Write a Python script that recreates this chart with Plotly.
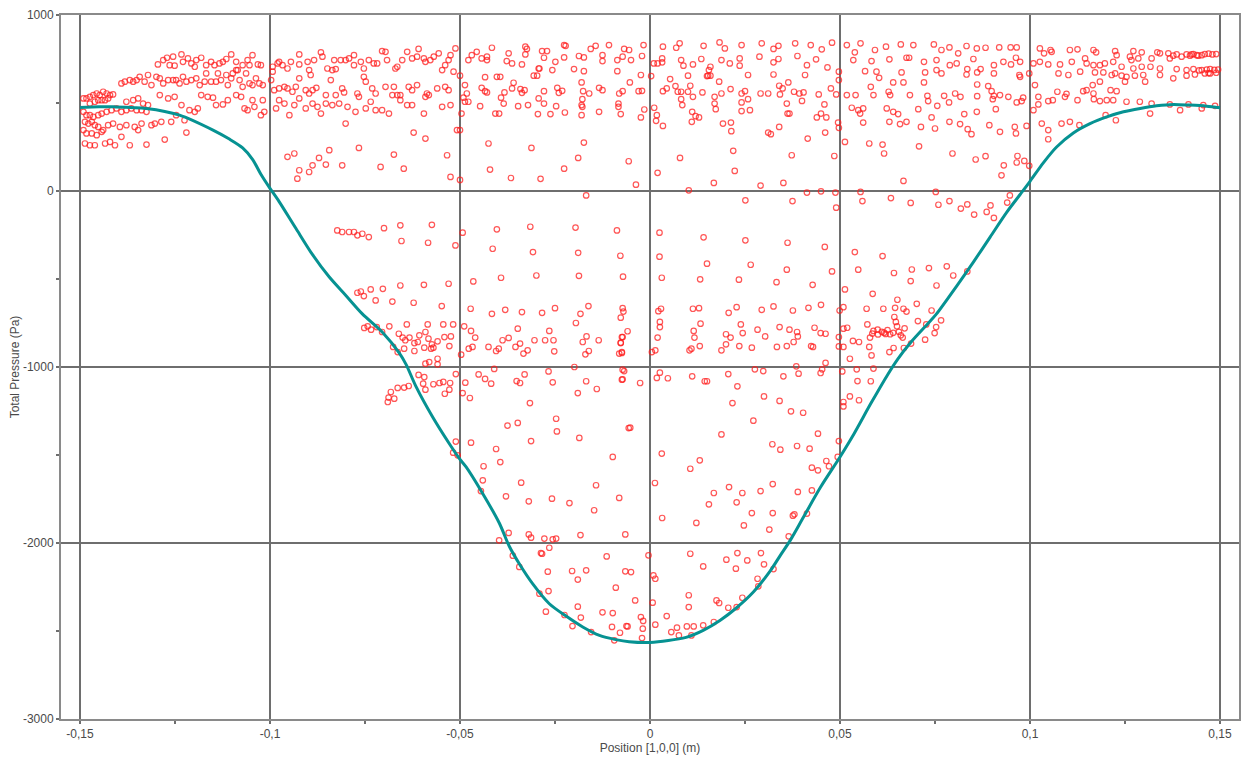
import plotly.graph_objects as go

# ---------------- tick labels ----------------
x_ticks = [-0.15, -0.1, -0.05, 0.0, 0.05, 0.1, 0.15]
x_tick_labels = ["-0,15", "-0,1", "-0,05", "0", "0,05", "0,1", "0,15"]
x_minor = [-0.125, -0.075, -0.025, 0.025, 0.075, 0.125]
y_ticks = [1000, 0, -1000, -2000, -3000]
y_tick_labels = ["1000", "0", "-1000", "-2000", "-3000"]
y_minor = [500, -500, -1500, -2500]

# ---------------- line series (Position m, Total Pressure Pa) ----------------
line_x = [-0.150, -0.145, -0.141, -0.1325, -0.1238, -0.115, -0.1107, -0.1072, -0.1046, -0.1024,
          -0.100, -0.0976, -0.0932, -0.0888, -0.0844, -0.0801, -0.0757, -0.0703, -0.0660, -0.0642,
          -0.0616, -0.0572, -0.0528, -0.0500, -0.0484, -0.0440, -0.0397, -0.0370, -0.0344, -0.0309,
          -0.0265, -0.0221, -0.0177, -0.0133, -0.0090, -0.0055, 0.0, 0.0095, 0.0140, 0.0184,
          0.0228, 0.0272, 0.0316, 0.0343, 0.0369, 0.0404, 0.0449, 0.0500, 0.0537, 0.0581,
          0.0625, 0.0652, 0.0687, 0.0731, 0.0754, 0.0807, 0.0851, 0.0895, 0.0939, 0.0974,
          0.1000, 0.1035, 0.1070, 0.1114, 0.1158, 0.1202, 0.1246, 0.1290, 0.1333, 0.1377,
          0.1421, 0.1465, 0.1500]
line_y = [475, 478, 478, 469, 431, 346, 295, 245, 180, 95,
          15, -60, -212, -362, -489, -592, -698, -805, -920, -985,
          -1110, -1284, -1436, -1525, -1568, -1720, -1885, -2020, -2118, -2231,
          -2345, -2415, -2477, -2525, -2549, -2561, -2565, -2536, -2496, -2440,
          -2368, -2279, -2160, -2070, -1985, -1852, -1682, -1511, -1379, -1208,
          -1045, -955, -858, -754, -698, -540, -404, -262, -120, -20,
          55, 160, 250, 330, 383, 421, 450, 469, 484, 492,
          488, 482, 473]

# ---------------- scatter points (x, y) ----------------
left_top_row = [
    (-0.1295, 719), (-0.1281, 744), (-0.1271, 757), (-0.1255, 763), (-0.1264, 715), (-0.1251, 712),
    (-0.1233, 776), (-0.1229, 734), (-0.1216, 753), (-0.1207, 725), (-0.1198, 706), (-0.1194, 744),
    (-0.1181, 757), (-0.1168, 715), (-0.1155, 734), (-0.1146, 715), (-0.1133, 725), (-0.1124, 734),
    (-0.1115, 750), (-0.1102, 776), (-0.1089, 734), (-0.1085, 687), (-0.1072, 715), (-0.1059, 744),
    (-0.1054, 715), (-0.1046, 772), (-0.1032, 719), (-0.1024, 715), (-0.0993, 706), (-0.0980, 725),
    (-0.0976, 734), (-0.0967, 715), (-0.0954, 696), (-0.0945, 734), (-0.0923, 776), (-0.0923, 719),
    (-0.0901, 734), (-0.0897, 687), (-0.0893, 659), (-0.0884, 744), (-0.0866, 788), (-0.0862, 763),
    (-0.0849, 696), (-0.0836, 687), (-0.0831, 744), (-0.0827, 693), (-0.0814, 744), (-0.0801, 744),
    (-0.0792, 753), (-0.0779, 772), (-0.0779, 715), (-0.0761, 734), (-0.0753, 696), (-0.0740, 744),
    (-0.0727, 725), (-0.0718, 725), (-0.0705, 795), (-0.0696, 791), (-0.0692, 744), (-0.0670, 696),
    (-0.0665, 706), (-0.0652, 744), (-0.0639, 791), (-0.0626, 753), (-0.0613, 763), (-0.0609, 807),
    (-0.0595, 753), (-0.0591, 734), (-0.0578, 744), (-0.0569, 763), (-0.0556, 782), (-0.0547, 687),
    (-0.0539, 715), (-0.0530, 744), (-0.0525, 772), (-0.0517, 678), (-0.0512, 810),
]
left_second_row = [
    (-0.1391, 611), (-0.1382, 621), (-0.1369, 630), (-0.1360, 621), (-0.1351, 630), (-0.1343, 649),
    (-0.1330, 621), (-0.1321, 659), (-0.1312, 602), (-0.1299, 649), (-0.1290, 640), (-0.1281, 611),
    (-0.1268, 630), (-0.1255, 630), (-0.1247, 630), (-0.1238, 611), (-0.1229, 649), (-0.1220, 621),
    (-0.1207, 630), (-0.1194, 640), (-0.1185, 602), (-0.1172, 621), (-0.1168, 668), (-0.1155, 621),
    (-0.1142, 621), (-0.1137, 668), (-0.1129, 630), (-0.1115, 659), (-0.1111, 602), (-0.1102, 640),
    (-0.1098, 668), (-0.1089, 687), (-0.1080, 630), (-0.1072, 592), (-0.1063, 668), (-0.1054, 611),
    (-0.1046, 602), (-0.1037, 640), (-0.1028, 611), (-0.1019, 602), (-0.0997, 630), (-0.0993, 678),
    (-0.0989, 573), (-0.0976, 583), (-0.0962, 592), (-0.0954, 583), (-0.0941, 564), (-0.0932, 592),
    (-0.0923, 640), (-0.0906, 573), (-0.0897, 554), (-0.0888, 573), (-0.0878, 586), (-0.0853, 545),
    (-0.0840, 630), (-0.0827, 545), (-0.0810, 583), (-0.0805, 560), (-0.0770, 554), (-0.0766, 535),
    (-0.0753, 649), (-0.0748, 621), (-0.0731, 583), (-0.0722, 554), (-0.0696, 592), (-0.0674, 592),
    (-0.0678, 545), (-0.0665, 545), (-0.0657, 545), (-0.0635, 592), (-0.0626, 573), (-0.0613, 602),
    (-0.0587, 554), (-0.0582, 545), (-0.0560, 583), (-0.0539, 592), (-0.0530, 573),
]
left_cluster = [
    (-0.1491, 526), (-0.1483, 526), (-0.1474, 535), (-0.1465, 545), (-0.1456, 554), (-0.1448, 545),
    (-0.1439, 564), (-0.1430, 554), (-0.1421, 545), (-0.1413, 549), (-0.1474, 497), (-0.1461, 507),
    (-0.1452, 516), (-0.1443, 516), (-0.1434, 516), (-0.1426, 526), (-0.1491, 450), (-0.1483, 431),
    (-0.1474, 431), (-0.1465, 421), (-0.1452, 431), (-0.1443, 440), (-0.1430, 450), (-0.1417, 459),
    (-0.1404, 469), (-0.1391, 450), (-0.1378, 459), (-0.1365, 469), (-0.1351, 459), (-0.1338, 459),
    (-0.1325, 450), (-0.1487, 393), (-0.1478, 383), (-0.1469, 393), (-0.1461, 374), (-0.1452, 364),
    (-0.1439, 346), (-0.1426, 374), (-0.1413, 383), (-0.1395, 364), (-0.1378, 374), (-0.1356, 364),
    (-0.1347, 346), (-0.1338, 383), (-0.1312, 374), (-0.1303, 383), (-0.1286, 393), (-0.1260, 393),
    (-0.1247, 431), (-0.1225, 402), (-0.1491, 346), (-0.1483, 327), (-0.1469, 327), (-0.1456, 317),
    (-0.1443, 336), (-0.1434, 270), (-0.1421, 279), (-0.1408, 260), (-0.1487, 270), (-0.1474, 260),
    (-0.1461, 260), (-0.1391, 308), (-0.1369, 260), (-0.1325, 264), (-0.1277, 292), (-0.1220, 332),
    (-0.1378, 507), (-0.1360, 516), (-0.1347, 526), (-0.1334, 497), (-0.1321, 488), (-0.1290, 545),
    (-0.1268, 526), (-0.1251, 535), (-0.1233, 488), (-0.1212, 459), (-0.1198, 450), (-0.1190, 469),
    (-0.1181, 545), (-0.1164, 535), (-0.1150, 530), (-0.1142, 488), (-0.1124, 492), (-0.1111, 516),
    (-0.1089, 545), (-0.1076, 535), (-0.1067, 469), (-0.1059, 459), (-0.1046, 516), (-0.1041, 478),
    (-0.1024, 431), (-0.1015, 450), (-0.1019, 516), (-0.0976, 516), (-0.0984, 469), (-0.0962, 497),
    (-0.0949, 431), (-0.0936, 488), (-0.0923, 526), (-0.0906, 469), (-0.0888, 497), (-0.0875, 478),
    (-0.0866, 440), (-0.0853, 497), (-0.0836, 488), (-0.0818, 497), (-0.0796, 478), (-0.0775, 450),
    (-0.0748, 469), (-0.0735, 507), (-0.0722, 459), (-0.0705, 459), (-0.0687, 440), (-0.0657, 516),
    (-0.0639, 488), (-0.0626, 488), (-0.0595, 440), (-0.0591, 535), (-0.0547, 478), (-0.0525, 488),
    (-0.0801, 383), (-0.0622, 332), (-0.0591, 298), (-0.0508, 346),
]
left_low = [
    (-0.0954, 194), (-0.0936, 213), (-0.0923, 118), (-0.0928, 70), (-0.0897, 108), (-0.0888, 146),
    (-0.0871, 188), (-0.0853, 150), (-0.0844, 232), (-0.0810, 146), (-0.0766, 245), (-0.0709, 137),
    (-0.0674, 207), (-0.0648, 127), (-0.0534, 203), (-0.0525, 80),
    (-0.0823, -224), (-0.0810, -233), (-0.0792, -233), (-0.0779, -233), (-0.0770, -252), (-0.0757, -243),
    (-0.0740, -262), (-0.0700, -211), (-0.0657, -195), (-0.0654, -284), (-0.0574, -192), (-0.0584, -294),
    (-0.0512, -309), (-0.0770, -578), (-0.0761, -571), (-0.0753, -597), (-0.0735, -559), (-0.0722, -622),
    (-0.0703, -556), (-0.0678, -628), (-0.0657, -537), (-0.0622, -635), (-0.0595, -533), (-0.0548, -654),
    (-0.0530, -527),
]
centre_left_upper = [
    (-0.0478, 744), (-0.0469, 772), (-0.0456, 791), (-0.0443, 753), (-0.0429, 763), (-0.0429, 744),
    (-0.0416, 814), (-0.0377, 738), (-0.0372, 782), (-0.0363, 725), (-0.0337, 719), (-0.0328, 820),
    (-0.0324, 807), (-0.0328, 776), (-0.0293, 696), (-0.0284, 795), (-0.0271, 795), (-0.0279, 757),
    (-0.0257, 687), (-0.0249, 734), (-0.0226, 829), (-0.0222, 825), (-0.0226, 759), (-0.0200, 693),
    (-0.0187, 767), (-0.0174, 759), (-0.0174, 681), (-0.0156, 807), (-0.0143, 825), (-0.0125, 772),
    (-0.0125, 738), (-0.0108, 829), (-0.0086, 744), (-0.0086, 681), (-0.0072, 763), (-0.0068, 807),
    (-0.0055, 801), (-0.0050, 744), (-0.0024, 659), (-0.0021, 767), (-0.0017, 829),
    (-0.0500, 655), (-0.0487, 602), (-0.0482, 554), (-0.0491, 530), (-0.0487, 507), (-0.0478, 507),
    (-0.0496, 440), (-0.0447, 482), (-0.0443, 586), (-0.0434, 567), (-0.0429, 560), (-0.0434, 647),
    (-0.0403, 649), (-0.0394, 649), (-0.0407, 440), (-0.0397, 440), (-0.0392, 530), (-0.0385, 497),
    (-0.0383, 560), (-0.0363, 583), (-0.0359, 615), (-0.0347, 482), (-0.0341, 579), (-0.0337, 558),
    (-0.0330, 573), (-0.0321, 488), (-0.0306, 655), (-0.0297, 655), (-0.0293, 526), (-0.0295, 437),
    (-0.0291, 696), (-0.0279, 567), (-0.0279, 497), (-0.0262, 437), (-0.0247, 482), (-0.0244, 586),
    (-0.0240, 558), (-0.0231, 569), (-0.0224, 446), (-0.0180, 617), (-0.0176, 567), (-0.0178, 522),
    (-0.0180, 488), (-0.0178, 478), (-0.0180, 431), (-0.0160, 554), (-0.0134, 586), (-0.0125, 573),
    (-0.0134, 450), (-0.0081, 554), (-0.0083, 497), (-0.0083, 478), (-0.0077, 437), (-0.0072, 567),
    (-0.0053, 617), (-0.0030, 567), (-0.0021, 569), (-0.0024, 418), (-0.0015, 463),
]
centre_left_low = [
    (-0.0500, 346), (-0.0425, 270), (-0.0312, 245), (-0.0174, 275), (-0.0189, 188), (-0.0056, 169),
    (-0.0421, 122), (-0.0366, 74), (-0.0288, 69), (-0.0226, 127), (-0.0500, 63), (-0.0037, 36),
    (-0.0168, -25), (-0.0493, -237), (-0.0403, -218), (-0.0315, -203), (-0.0196, -208), (-0.0087, -224),
    (-0.0414, -328), (-0.0308, -347), (-0.0189, -351), (-0.0078, -368), (-0.0465, -514), (-0.0392, -493),
    (-0.0299, -480), (-0.0187, -482), (-0.0071, -487), (-0.0472, -669), (-0.0416, -698), (-0.0381, -675),
    (-0.0337, -688), (-0.0284, -692), (-0.0250, -666), (-0.0162, -654), (-0.0183, -698), (-0.0072, -666),
    (-0.0070, -685),
]
centre_right_upper = [
    (0.0010, 725), (0.0020, 725), (0.0034, 820), (0.0032, 753), (0.0032, 731), (0.0069, 814),
    (0.0078, 839), (0.0082, 744), (0.0088, 712), (0.0113, 719), (0.0135, 750), (0.0141, 825),
    (0.0159, 706), (0.0155, 687), (0.0153, 655), (0.0183, 844), (0.0197, 810), (0.0188, 744),
    (0.0210, 725), (0.0236, 753), (0.0236, 712), (0.0241, 829), (0.0258, 659), (0.0288, 763),
    (0.0294, 839), (0.0325, 807), (0.0325, 731), (0.0338, 825), (0.0338, 750), (0.0382, 839),
    (0.0388, 767), (0.0413, 715), (0.0423, 829), (0.0437, 748), (0.0452, 805), (0.0467, 702),
    (0.0479, 843), (0.0497, 630), (0.0497, 678),
    (0.0003, 653), (0.0011, 473), (0.0018, 431), (0.0016, 399), (0.0034, 370), (0.0034, 567),
    (0.0044, 583), (0.0053, 636), (0.0067, 596), (0.0073, 564), (0.0082, 564), (0.0082, 522),
    (0.0085, 488), (0.0100, 655), (0.0100, 564), (0.0106, 598), (0.0111, 450), (0.0110, 393),
    (0.0113, 535), (0.0120, 425), (0.0129, 418), (0.0138, 560), (0.0150, 653), (0.0159, 655),
    (0.0170, 535), (0.0170, 497), (0.0173, 465), (0.0182, 621), (0.0188, 554), (0.0192, 383),
    (0.0212, 579), (0.0213, 389), (0.0214, 340), (0.0241, 503), (0.0241, 454), (0.0241, 554),
    (0.0250, 567), (0.0258, 522), (0.0263, 459), (0.0291, 554), (0.0311, 554), (0.0311, 332),
    (0.0318, 323), (0.0325, 662), (0.0340, 598), (0.0342, 549), (0.0340, 364), (0.0349, 583),
    (0.0360, 497), (0.0362, 440), (0.0367, 440), (0.0364, 617), (0.0379, 564), (0.0393, 554),
    (0.0400, 512), (0.0404, 560), (0.0408, 659), (0.0415, 298), (0.0439, 418), (0.0444, 549),
    (0.0450, 440), (0.0459, 492), (0.0461, 332), (0.0464, 418), (0.0476, 583), (0.0485, 199),
    (0.0490, 549), (0.0495, 389), (0.0497, 359),
]
centre_right_low = [
    (0.0219, 228), (0.0223, 114), (0.0373, 203), (0.0079, 188), (0.0020, 103), (0.0168, 46),
    (0.0291, 31), (0.0351, 46), (0.0102, 4), (0.0413, -9), (0.0450, -2), (0.0488, -9),
    (0.0251, -53), (0.0375, -57), (0.0490, -95), (0.0025, -237), (0.0141, -263), (0.0251, -280),
    (0.0362, -294), (0.0460, -318), (0.0025, -373), (0.0150, -413), (0.0265, -419), (0.0360, -447),
    (0.0479, -457), (0.0031, -493), (0.0132, -502), (0.0234, -504), (0.0333, -518), (0.0428, -533),
    (0.0022, -683), (0.0029, -669), (0.0113, -669), (0.0129, -666), (0.0207, -692), (0.0228, -660),
    (0.0294, -675), (0.0325, -656), (0.0376, -679), (0.0417, -664), (0.0450, -647), (0.0499, -679),
]
right_inner = [
    (0.0518, 829), (0.0554, 839), (0.0592, 801), (0.0621, 820), (0.0660, 833), (0.0693, 829),
    (0.0747, 833), (0.0767, 801), (0.0788, 816), (0.0811, 782), (0.0833, 824), (0.0860, 810),
    (0.0883, 814), (0.0919, 816), (0.0949, 816), (0.0965, 816), (0.0539, 788), (0.0535, 744),
    (0.0583, 738), (0.0630, 748), (0.0675, 757), (0.0682, 757), (0.0721, 734), (0.0754, 744),
    (0.0789, 715), (0.0807, 725), (0.0835, 693), (0.0851, 750), (0.0870, 693), (0.0905, 715),
    (0.0930, 734), (0.0950, 719), (0.0963, 757), (0.0974, 734), (0.0566, 681), (0.0596, 678),
    (0.0603, 643), (0.0662, 674), (0.0667, 617), (0.0640, 617), (0.0721, 617), (0.0724, 674),
    (0.0754, 687), (0.0767, 668), (0.0833, 662), (0.0861, 674), (0.0905, 668), (0.0972, 659),
    (0.0974, 649), (0.0998, 668), (0.0581, 592), (0.0628, 564), (0.0684, 545), (0.0730, 541),
    (0.0732, 511), (0.0774, 541), (0.0803, 554), (0.0817, 535), (0.0861, 539), (0.0861, 605),
    (0.0890, 596), (0.0899, 567), (0.0905, 541), (0.0902, 522), (0.0921, 545), (0.0943, 535),
    (0.0965, 503), (0.0978, 511), (0.0982, 530), (0.0518, 545), (0.0541, 545), (0.0588, 545),
    (0.0632, 545), (0.0531, 473), (0.0548, 459), (0.0553, 440), (0.0561, 469), (0.0623, 469),
    (0.0640, 450), (0.0653, 437), (0.0706, 465), (0.0741, 418), (0.0756, 484), (0.0787, 503),
    (0.0788, 393), (0.0816, 380), (0.0827, 437), (0.0836, 351), (0.0846, 323), (0.0860, 450),
    (0.0893, 374), (0.0910, 465), (0.0921, 336), (0.0960, 364), (0.0963, 327), (0.0991, 370),
    (0.0561, 389), (0.0630, 393), (0.0658, 380), (0.0675, 393), (0.0713, 364), (0.0750, 355),
    (0.0513, 279), (0.0577, 270), (0.0612, 264), (0.0616, 213), (0.0708, 254), (0.0796, 213),
    (0.0857, 179), (0.0883, 198), (0.0931, 146), (0.0925, 89), (0.0965, 162), (0.0967, 199),
    (0.0985, 171), (0.0998, 143), (0.0667, 57), (0.0554, -5), (0.0559, -57), (0.0634, -40),
    (0.0686, -68), (0.0752, -5), (0.0759, -78), (0.0788, -57), (0.0818, -100), (0.0835, -76),
    (0.0853, -134), (0.0886, -119), (0.0896, -82), (0.0905, -153), (0.0940, -66), (0.0947, -25),
    (0.0539, -347), (0.0612, -370), (0.0548, -447), (0.0642, -466), (0.0689, -446), (0.0734, -438),
    (0.0781, -428), (0.0798, -480), (0.0835, -457), (0.0686, -512), (0.0754, -537), (0.0513, -559),
    (0.0586, -584), (0.0651, -618), (0.0702, -641), (0.0570, -669), (0.0614, -669), (0.0645, -664),
    (0.0667, -669), (0.0675, -685), (0.0741, -679), (0.0509, -660),
]
right_outer = [
    (0.1026, 810), (0.1037, 782), (0.1054, 801), (0.1057, 791), (0.1105, 801), (0.1125, 805),
    (0.1167, 801), (0.1174, 788), (0.1224, 795), (0.1228, 772), (0.1272, 795), (0.1294, 788),
    (0.1335, 788), (0.1342, 782), (0.1364, 782), (0.1386, 776), (0.1412, 776), (0.1439, 772),
    (0.1452, 772), (0.1377, 769), (0.1399, 763), (0.1421, 769), (0.1443, 769), (0.1285, 753),
    (0.1263, 763), (0.1267, 744), (0.1320, 753), (0.1368, 753), (0.1425, 776), (0.1009, 725),
    (0.1026, 734), (0.1048, 719), (0.1079, 719), (0.1110, 734), (0.1145, 753), (0.1149, 725),
    (0.1167, 715), (0.1184, 715), (0.1197, 725), (0.1219, 734), (0.1241, 706), (0.1272, 696),
    (0.1294, 706), (0.1317, 706), (0.1342, 696), (0.1386, 693), (0.1412, 687), (0.1430, 693),
    (0.1452, 687), (0.1474, 693), (0.1013, 602), (0.1075, 668), (0.1101, 659), (0.1132, 678),
    (0.1171, 674), (0.1193, 674), (0.1215, 659), (0.1224, 668), (0.1241, 655), (0.1254, 649),
    (0.1276, 655), (0.1298, 659), (0.1342, 659), (0.1377, 640), (0.1412, 655), (0.1434, 662),
    (0.1460, 668), (0.1474, 668), (0.1250, 621), (0.1303, 621), (0.1184, 621), (0.1140, 567),
    (0.1165, 602), (0.1212, 573), (0.1228, 567), (0.1009, 459), (0.1022, 535), (0.1022, 492),
    (0.1048, 511), (0.1060, 516), (0.1072, 564), (0.1092, 535), (0.1096, 552), (0.1125, 516),
    (0.1149, 573), (0.1168, 522), (0.1184, 511), (0.1202, 516), (0.1219, 516), (0.1254, 507),
    (0.1289, 507), (0.1320, 497), (0.1368, 492), (0.1417, 492), (0.1456, 488), (0.1487, 484),
    (0.1031, 383), (0.1048, 346), (0.1048, 294), (0.1083, 383), (0.1105, 393), (0.1130, 374),
    (0.1167, 554), (0.1199, 431), (0.1226, 402), (0.1316, 440), (0.1395, 459), (0.1452, 469),
    (0.1430, 778), (0.1460, 778), (0.1470, 780), (0.1480, 776), (0.1490, 778), (0.1465, 690),
    (0.1485, 688), (0.1495, 690), (0.1445, 685), (0.1490, 672), (0.1470, 670),
]
trough_left = [
    (-0.0752, -778), (-0.0743, -769), (-0.0734, -788), (-0.0719, -773), (-0.0705, -801), (-0.0686, -769),
    (-0.0661, -811), (-0.0640, -758), (-0.0651, -833), (-0.0644, -848), (-0.0633, -833), (-0.0620, -864),
    (-0.0611, -858), (-0.0607, -820), (-0.0591, -801), (-0.0585, -758), (-0.0583, -839), (-0.0574, -871),
    (-0.0570, -890), (-0.0576, -896), (-0.0594, -890), (-0.0559, -854), (-0.0544, -758), (-0.0541, -830),
    (-0.0524, -826), (-0.0528, -881), (-0.0518, -758), (-0.0676, -886), (-0.0664, -915), (-0.0647, -896),
    (-0.0620, -909), (-0.0591, -981), (-0.0581, -972), (-0.0559, -953), (-0.0559, -985), (-0.0497, -930),
    (-0.0489, -769), (-0.0471, -795), (-0.0460, -833), (-0.0477, -896), (-0.0467, -886), (-0.0425, -886),
    (-0.0405, -909), (-0.0398, -896), (-0.0388, -848), (-0.0372, -835), (-0.0354, -886), (-0.0348, -782),
    (-0.0342, -867), (-0.0333, -924), (-0.0322, -905), (-0.0304, -848), (-0.0276, -848), (-0.0265, -795),
    (-0.0254, -848), (-0.0252, -911), (-0.0195, -750), (-0.0177, -858), (-0.0167, -826), (-0.0170, -928),
    (-0.0161, -909), (-0.0135, -848), (-0.0077, -864), (-0.0074, -920), (-0.0072, -830),
    (-0.0609, -1045), (-0.0594, -1057), (-0.0597, -1095), (-0.0591, -1129), (-0.0570, -1098), (-0.0554, -1091),
    (-0.0544, -1085), (-0.0526, -1091), (-0.0528, -1129), (-0.0540, -1152), (-0.0511, -1040), (-0.0486, -1089),
    (-0.0493, -1148), (-0.0474, -1176), (-0.0451, -1042), (-0.0434, -1068), (-0.0418, -1095), (-0.0410, -1011),
    (-0.0351, -1080), (-0.0342, -1091), (-0.0330, -1042), (-0.0267, -1025), (-0.0256, -1087), (-0.0199, -1000),
    (-0.0168, -1081), (-0.0140, -1125), (-0.0190, -1148), (-0.0316, -1205), (-0.0072, -1015), (-0.0074, -1072),
    (-0.0682, -1142), (-0.0664, -1119), (-0.0647, -1117), (-0.0635, -1108), (-0.0688, -1174), (-0.0690, -1199),
    (-0.0673, -1180), (-0.0375, -1333), (-0.0348, -1318), (-0.0247, -1294), (-0.0245, -1366), (-0.0313, -1421),
    (-0.0186, -1403), (-0.0056, -1347), (-0.0098, -1511), (-0.0511, -1424), (-0.0471, -1430), (-0.0405, -1466),
    (-0.0394, -1540), (-0.0438, -1564), (-0.0440, -1644), (-0.0339, -1657), (-0.0379, -1735), (-0.0319, -1763),
    (-0.0258, -1748), (-0.0212, -1773), (-0.0147, -1814), (-0.0142, -1672), (-0.0081, -1744), (-0.0518, -1487),
    (-0.0506, -1502), (-0.0445, -1705), (-0.0372, -1943), (-0.0397, -1985), (-0.0319, -1951), (-0.0313, -1970),
    (-0.0278, -1975), (-0.0256, -1979), (-0.0247, -1975), (-0.0183, -1955), (-0.0361, -2072), (-0.0344, -2136),
    (-0.0287, -2057), (-0.0284, -2061), (-0.0265, -2027), (-0.0269, -2163), (-0.0205, -2159), (-0.0190, -2208),
    (-0.0168, -2155), (-0.0114, -2076), (-0.0090, -2254), (-0.0065, -2161), (-0.0291, -2288), (-0.0267, -2273),
    (-0.0274, -2390), (-0.0190, -2362), (-0.0125, -2394), (-0.0098, -2398), (-0.0225, -2409), (-0.0204, -2472),
    (-0.0182, -2424), (-0.0155, -2506), (-0.0100, -2477), (-0.0079, -2510), (-0.0059, -2474), (-0.0094, -2553),
]
trough_right = [
    (-0.0077, -720), (0.0766, -735), (0.0705, -739), (0.0643, -716), (0.0647, -744),
    (-0.0059, -797), (-0.0074, -830), (-0.0077, -862), (0.0020, -833), (0.0026, -773), (0.0026, -744),
    (0.0115, -795), (0.0117, -833), (0.0133, -754), (0.0200, -814), (0.0212, -833), (0.0239, -758),
    (0.0244, -807), (0.0283, -788), (0.0303, -826), (0.0341, -773), (0.0367, -788), (0.0387, -801),
    (0.0389, -826), (0.0378, -858), (0.0433, -777), (0.0449, -807), (0.0462, -811), (0.0497, -830),
    (0.0509, -782), (0.0519, -777), (0.0534, -852), (0.0550, -858), (0.0572, -758), (0.0579, -833),
    (0.0588, -795), (0.0599, -788), (0.0616, -805), (0.0632, -814), (0.0650, -769), (0.0665, -833),
    (0.0687, -867), (0.0724, -845), (0.0749, -807), (0.0753, -773), (0.0727, -758),
    (0.0585, -810), (0.0600, -815), (0.0610, -800), (0.0620, -812), (0.0640, -806), (0.0625, -790),
    (0.0655, -800), (0.0660, -820), (0.0670, -780),
    (-0.0074, -915), (-0.0081, -924), (0.0005, -915), (0.0014, -905), (0.0104, -905), (0.0109, -896),
    (0.0131, -881), (0.0188, -905), (0.0200, -871), (0.0235, -881), (0.0268, -890), (0.0334, -886),
    (0.0360, -881), (0.0424, -881), (0.0429, -886), (0.0497, -883), (0.0509, -886), (0.0526, -953),
    (0.0577, -886), (0.0583, -934), (0.0630, -915), (0.0641, -892), (0.0668, -892),
    (-0.0068, -1023), (-0.0072, -1070), (-0.0026, -1091), (0.0018, -1062), (0.0026, -1032), (0.0047, -1064),
    (0.0111, -1053), (0.0144, -1081), (0.0150, -1081), (0.0206, -1040), (0.0230, -1110), (0.0276, -1013),
    (0.0298, -1023), (0.0351, -1053), (0.0385, -996), (0.0391, -1038), (0.0449, -1034), (0.0453, -1013),
    (0.0462, -977), (0.0506, -1025), (0.0544, -1013), (0.0546, -1080), (0.0581, -1081), (0.0588, -1009),
    (0.0509, -1199), (0.0509, -1224), (0.0526, -1167), (0.0550, -1189), (0.0300, -1167), (0.0341, -1193),
    (0.0371, -1252), (0.0403, -1260), (0.0217, -1205), (0.0272, -1305), (-0.0052, -1345), (0.0188, -1383),
    (0.0442, -1379), (0.0322, -1439), (0.0343, -1470), (0.0387, -1449), (0.0420, -1464), (0.0497, -1421),
    (0.0494, -1511), (0.0426, -1572), (0.0442, -1587), (0.0464, -1534), (0.0471, -1564), (0.0031, -1492),
    (0.0131, -1530), (0.0106, -1578), (0.0013, -1659), (0.0168, -1716), (0.0208, -1682), (0.0243, -1716),
    (0.0228, -1769), (0.0155, -1780), (0.0291, -1705), (0.0323, -1665), (0.0389, -1710), (0.0426, -1701),
    (0.0268, -1830), (0.0323, -1830), (0.0376, -1845), (0.0380, -1837), (0.0413, -1833), (0.0247, -1900),
    (0.0122, -1886), (0.0032, -1858), (0.0314, -1924), (-0.0065, -1951), (0.0365, -1962), (-0.0004, -2070),
    (0.0106, -2061), (0.0230, -2057), (0.0292, -2057), (0.0201, -2095), (0.0256, -2099), (0.0300, -2121),
    (-0.0050, -2165), (0.0009, -2184), (0.0014, -2203), (0.0140, -2133), (0.0226, -2146), (0.0325, -2148),
    (0.0283, -2203), (0.0285, -2246), (-0.0039, -2326), (0.0007, -2339), (0.0102, -2297), (0.0102, -2364),
    (0.0175, -2326), (0.0182, -2341), (0.0206, -2368), (0.0228, -2364), (0.0243, -2311), (0.0044, -2415),
    (-0.0024, -2421), (-0.0018, -2443), (-0.0062, -2472), (-0.0019, -2487), (0.0014, -2464), (0.0056, -2506),
    (0.0071, -2481), (0.0076, -2525), (0.0097, -2474), (0.0115, -2474), (0.0140, -2468), (0.0168, -2449),
    (0.0109, -2525), (-0.0021, -2540),
]

groups = [left_top_row, left_second_row, left_cluster, left_low, centre_left_upper, centre_left_low,
          centre_right_upper, centre_right_low, right_inner, right_outer, trough_left, trough_right]
pts_x = [p[0] for g in groups for p in g]
pts_y = [p[1] for g in groups for p in g]

FONT = "Liberation Sans, Arial, sans-serif"
GRID = "#6e6e6e"
TEXT = "#4a4a4a"

fig = go.Figure()
fig.add_trace(go.Scatter(
    x=pts_x, y=pts_y, mode="markers",
    marker=dict(symbol="circle-open", size=5.5, color="rgba(255,30,30,0.75)",
                line=dict(width=1.2, color="rgba(255,30,30,0.75)")),
    hoverinfo="skip",
))
fig.add_trace(go.Scatter(
    x=line_x, y=line_y, mode="lines",
    line=dict(color="#069292", width=3, shape="spline", smoothing=0.8),
    hoverinfo="skip",
))

# The page body has an 8px default margin, so the figure is sized to fit the window.
fig.update_layout(
    width=1241, height=750,
    margin=dict(l=53, r=10, t=7, b=39),
    paper_bgcolor="white", plot_bgcolor="white",
    showlegend=False,
    font=dict(family=FONT, size=12, color=TEXT),
)
fig.update_xaxes(
    range=[-0.155, 0.155], tickmode="array", tickvals=x_ticks, ticktext=x_tick_labels,
    showgrid=True, gridcolor=GRID, gridwidth=1.5, zeroline=False,
    showline=True, linecolor="#8a8a8a", linewidth=2, mirror=True,
    ticks="outside", ticklen=3, tickcolor=GRID, tickwidth=1.5,
    minor=dict(tickmode="array", tickvals=x_minor, ticks="outside", ticklen=3,
               tickcolor=GRID, tickwidth=1.5, showgrid=False),
    tickfont=dict(family=FONT, size=12, color=TEXT),
    title=dict(text="Position [1,0,0] (m)", font=dict(family=FONT, size=12, color=TEXT), standoff=3),
    automargin=False, fixedrange=True,
)
fig.update_yaxes(
    range=[-3000, 1000], tickmode="array", tickvals=y_ticks, ticktext=y_tick_labels,
    showgrid=True, gridcolor=GRID, gridwidth=1.5, zeroline=False,
    showline=True, linecolor="#8a8a8a", linewidth=2, mirror=True,
    ticks="outside", ticklen=3, tickcolor=GRID, tickwidth=1.5,
    minor=dict(tickmode="array", tickvals=y_minor, ticks="outside", ticklen=3,
               tickcolor=GRID, tickwidth=1.5, showgrid=False),
    tickfont=dict(family=FONT, size=12, color=TEXT),
    title=dict(text="Total Pressure (Pa)", font=dict(family=FONT, size=12, color=TEXT), standoff=6),
    automargin=False, fixedrange=True,
)

fig.write_html("out.html")
